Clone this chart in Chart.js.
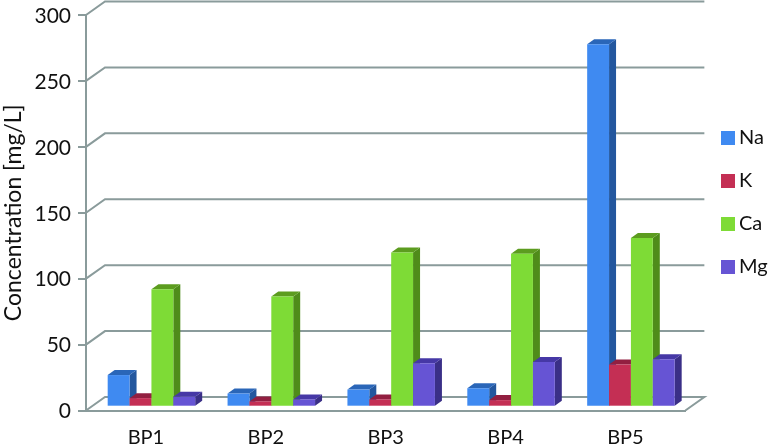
<!DOCTYPE html>
<html><head><meta charset="utf-8">
<style>html,body{margin:0;padding:0;background:#fff}canvas{display:block}</style>
<script src="https://cdn.jsdelivr.net/npm/chart.js@4"></script></head>
<body><canvas id="c" width="772" height="445"></canvas>
<script>
const categories = ['BP1','BP2','BP3','BP4','BP5'];
const na = [24, 10, 13, 14, 275];
const k  = [6.5, 4, 5.5, 5, 32];
const ca = [89, 83.5, 117, 116, 128];
const mg = [7.5, 5.5, 33, 34, 36];
const yTicks = [0,50,100,150,200,250,300];
const front = ['#3f8af1','#c42f54','#7edb36','#6654d4'];
const side  = ['#23579e','#7f1c39','#4f8c1a','#3a2f87'];
const top_  = ['#2a66b8','#921f40','#5c9c1f','#4638a6'];
const GRID = '#8a9b9b';
const FONT = 'Lato';
const WALL = {dx:19, dy:-13.5};
const PLANE = {dx:5.5, dy:-3.8};
const BAR = {dx:7, dy:-5};

function swatch(color){
  const c = document.createElement('canvas');
  c.width = 14; c.height = 14;
  const g = c.getContext('2d');
  g.fillStyle = color; g.fillRect(0,0,14,14);
  return c;
}

const threeD = {
  id:'threeD',
  beforeDatasetsDraw(chart){
    const {ctx, chartArea:a, scales:{y}} = chart;
    ctx.save();
    ctx.strokeStyle = GRID; ctx.lineWidth = 2;
    yTicks.forEach(v=>{
      const p = y.getPixelForValue(v);
      ctx.beginPath();
      ctx.moveTo(a.left,p);
      ctx.lineTo(a.left+WALL.dx,p+WALL.dy);
      ctx.lineTo(a.right+WALL.dx,p+WALL.dy);
      if(v===0) ctx.lineTo(a.right,p);
      ctx.stroke();
    });
    ctx.restore();
    // bars go left to right, so that each one overlaps the side of the previous one
    ctx.save();
    ctx.translate(PLANE.dx,PLANE.dy);
    series.forEach((_,i)=>{
      chart.getDatasetMeta(i).data.forEach(b=>{
        const l=b.x-b.width/2, r=b.x+b.width/2, t=b.y, s=b.base;
        ctx.fillStyle=side[i];
        ctx.beginPath();ctx.moveTo(r,t);ctx.lineTo(r+BAR.dx,t+BAR.dy);ctx.lineTo(r+BAR.dx,s+BAR.dy);ctx.lineTo(r,s);ctx.closePath();ctx.fill();
        ctx.fillStyle=top_[i];
        ctx.beginPath();ctx.moveTo(l,t);ctx.lineTo(l+BAR.dx,t+BAR.dy);ctx.lineTo(r+BAR.dx,t+BAR.dy);ctx.lineTo(r,t);ctx.closePath();ctx.fill();
        b.draw(ctx);
      });
    });
    ctx.restore();
  },
  beforeDatasetDraw(){ return false; },
  afterLayout(chart){
    chart.legend.left = 704;
    chart.legend.right = 772;
    chart.legend.top = 105;
  }
};

const series = [['Na',na],['K',k],['Ca',ca],['Mg',mg]];
new Chart(document.getElementById('c'),{
  type:'bar',
  plugins:[threeD],
  data:{labels:categories,datasets:series.map(([label,data],i)=>({
    label,data,backgroundColor:front[i],borderWidth:0,
    categoryPercentage:0.73,barPercentage:1
  }))},
  options:{
    responsive:false,animation:false,
    layout:{padding:{top:15,left:0,right:13,bottom:0}},
    plugins:{
      tooltip:{enabled:false},
      legend:{position:'right',align:'start',maxWidth:87,
        labels:{usePointStyle:true,pointStyleWidth:2,boxHeight:14,padding:23,color:'#111',font:{family:FONT,size:20},
          generateLabels(chart){
            const items = Chart.defaults.plugins.legend.labels.generateLabels(chart);
            items.forEach((it,i)=>{it.pointStyle = swatch(front[i]);});
            return items;
          }}}
    },
    scales:{
      x:{
        grid:{display:false},
        border:{display:true,color:GRID,width:2},
        ticks:{color:'#111',font:{family:FONT,size:20},padding:7},
        afterFit(s){s.height=34.5;s.paddingLeft=0;s.paddingRight=0;}
      },
      y:{
        min:0,max:300,
        afterBuildTicks(s){s.ticks=yTicks.map(v=>({value:v}));},
        grid:{drawOnChartArea:false,color:GRID,lineWidth:2,tickLength:8},
        border:{display:true,color:GRID,width:2},
        ticks:{color:'#111',font:{family:FONT,size:21},padding:7,labelOffset:1},
        title:{display:true,text:'Concentration [mg/L]',color:'#111',font:{family:FONT,size:23},padding:0},
        afterFit(s){s.width=86;s.paddingTop=0;s.paddingBottom=0;}
      }
    }
  }
});
</script></body></html>
